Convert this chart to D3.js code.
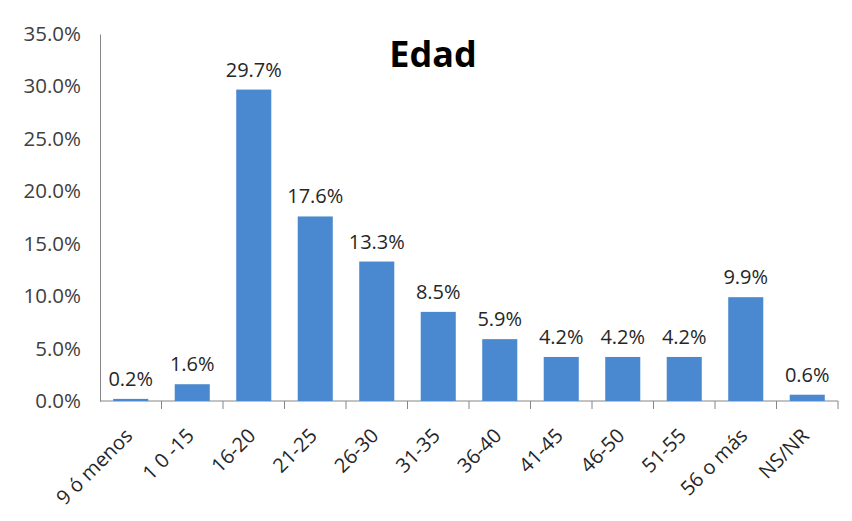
<!DOCTYPE html>
<html>
<head>
<meta charset="utf-8">
<script src="https://cdn.jsdelivr.net/npm/d3@7"></script>
<style>
  body { margin: 0; background: #fff; }
  text { font-family: "Open Sans", "Noto Sans", sans-serif; }
</style>
</head>
<body>
<div id="chart"></div>
<script>
// data
const categories = ["9 ó menos", "1 0 -15", "16-20", "21-25", "26-30", "31-35", "36-40", "41-45", "46-50", "51-55", "56 o más", "NS/NR"];
const values = [0.2, 1.6, 29.7, 17.6, 13.3, 8.5, 5.9, 4.2, 4.2, 4.2, 9.9, 0.6];
const yTicks = [0, 5, 10, 15, 20, 25, 30, 35];
const title = "Edad";

// formatting constants
const width = 852;
const height = 521;
const margin = {top: 34, right: 14, bottom: 120, left: 100};
const innerW = width - margin.left - margin.right;
const innerH = height - margin.top - margin.bottom;

const svg = d3.select("#chart")
    .append("svg")
        .attr("width", width)
        .attr("height", height);

const g = svg.append("g")
    .attr("transform", `translate(${margin.left}, ${margin.top})`);

// scales
const x = d3.scaleBand()
    .domain(categories)
    .range([0, innerW])
    .paddingInner(0.43)
    .paddingOuter(0.215);

const xTicks = d3.scaleBand()
    .domain(categories)
    .range([0, innerW]);

const y = d3.scaleLinear()
    .domain([0, 35])
    .range([innerH, 0]);

// y axis
const yAxis = g.append("g")
    .call(d3.axisLeft(y).tickValues(yTicks).tickSize(0).tickPadding(19)
        .tickFormat(d => d.toFixed(1) + "%"));
yAxis.select(".domain").attr("stroke", "#868686");
yAxis.selectAll("text")
    .attr("font-size", 20.5)
    .attr("fill", "#404040");

// x axis line and ticks
g.append("line")
    .attr("x1", 0).attr("x2", innerW)
    .attr("y1", innerH).attr("y2", innerH)
    .attr("stroke", "#868686");

g.selectAll(".xtick")
    .data(categories)
    .join("line")
        .attr("class", "xtick")
        .attr("x1", d => xTicks(d) + xTicks.bandwidth())
        .attr("x2", d => xTicks(d) + xTicks.bandwidth())
        .attr("y1", innerH)
        .attr("y2", innerH + 8)
        .attr("stroke", "#868686");

// bars
g.selectAll(".bar")
    .data(values)
    .join("rect")
        .attr("class", "bar")
        .attr("x", (d, i) => x(categories[i]))
        .attr("y", d => y(d))
        .attr("width", x.bandwidth())
        .attr("height", d => innerH - y(d))
        .attr("fill", "#4a89cf");

// value labels
g.selectAll(".val")
    .data(values)
    .join("text")
        .attr("class", "val")
        .attr("x", (d, i) => x(categories[i]) + x.bandwidth() / 2)
        .attr("y", d => y(d) - 13)
        .attr("text-anchor", "middle")
        .attr("font-size", 20)
        .attr("fill", "#262626")
        .text(d => d.toFixed(1) + "%");

// category labels
g.selectAll(".cat")
    .data(categories)
    .join("text")
        .attr("class", "cat")
        .attr("text-anchor", "end")
        .attr("font-size", 20)
        .attr("fill", "#262626")
        .attr("transform", d => `translate(${xTicks(d) + xTicks.bandwidth() / 2 + 3}, ${innerH + 36}) rotate(-45)`)
        .text(d => d);

// title
svg.append("text")
    .attr("x", 433)
    .attr("y", 67)
    .attr("text-anchor", "middle")
    .attr("font-size", 36)
    .attr("font-weight", "bold")
    .attr("fill", "#000")
    .text(title);
</script>
</body>
</html>
